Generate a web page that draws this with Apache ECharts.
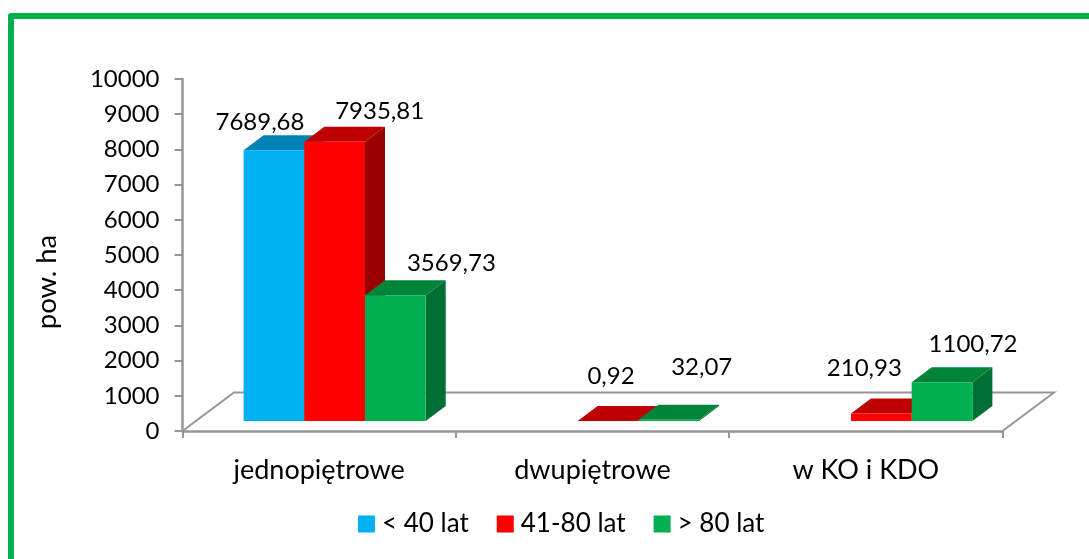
<!DOCTYPE html>
<html>
<head>
<meta charset="utf-8">
<style>html,body{margin:0;padding:0;background:#fff}#c{width:1089px;height:559px}</style>
<script src="https://cdn.jsdelivr.net/npm/echarts@6/dist/echarts.min.js"></script>
</head>
<body>
<div id="c"></div>
<script>
var categories = ['jednopiętrowe', 'dwupiętrowe', 'w KO i KDO'];
var seriesNames = ['< 40 lat', '41-80 lat', '> 80 lat'];
var young = [7689.68, null, null];
var middle = [7935.81, 0.92, 210.93];
var old = [3569.73, 32.07, 1100.72];
var yTicks = {min: 0, max: 10000, interval: 1000};

// styling only
var FONT = 'Lato';
var FS_NUM = 24, FS_CAT = 27, FS_LEGEND = 26, FS_NAME = 27.5;
var AXIS = '#969696';
var palettes = [
  {front: '#00B0F0', top: '#0083B4', side: '#006F98'},
  {front: '#FF0000', top: '#BF0000', side: '#990000'},
  {front: '#00B050', top: '#008439', side: '#006F33'}
];
var seriesShift = [-1, 0, 1];
var BAR_W = 60.7, GROUP_DX = 15.5, BASE_DY = -10, DEPTH_X = 20, DEPTH_Y = -15;
var FLOOR_X = 51.5, FLOOR_Y = -38.5;
// manual data-label displacement from each bar's top-centre [series][category]
var labelNudge = [
  [[-14, -28], null, null],
  [[45, -30], [3, -45], [-17, -45]],
  [[56, -32], [33, -53], [31, -38]]
];

function fmt(v) { return v.toFixed(2).replace('.', ','); }

function bar3d(sIdx) {
  return function (params, api) {
    var cat = api.value(0), val = api.value(1);
    var p0 = api.coord([cat, 0]), p1 = api.coord([cat, val]);
    var pal = palettes[sIdx];
    var xl = p0[0] + GROUP_DX + seriesShift[sIdx] * BAR_W - BAR_W / 2;
    var xr = xl + BAR_W;
    var yb = p0[1] + BASE_DY, yt = p1[1] + BASE_DY;
    var n = labelNudge[sIdx][cat];
    return {
      type: 'group',
      children: [
        {type: 'polygon', shape: {points: [[xr, yb], [xr + DEPTH_X, yb + DEPTH_Y], [xr + DEPTH_X, yt + DEPTH_Y], [xr, yt]]}, style: {fill: pal.side}},
        {type: 'polygon', shape: {points: [[xl, yt], [xr, yt], [xr + DEPTH_X, yt + DEPTH_Y], [xl + DEPTH_X, yt + DEPTH_Y]]}, style: {fill: pal.top}},
        {type: 'rect', shape: {x: xl, y: yt, width: BAR_W, height: yb - yt}, style: {fill: pal.front}},
        {type: 'text', style: {text: fmt(val), x: (xl + xr) / 2 + n[0], y: yt + n[1], textAlign: 'center', textVerticalAlign: 'middle', fontFamily: FONT, fontSize: FS_NUM, fill: '#000'}}
      ]
    };
  };
}

function floorItem(params) {
  var cs = params.coordSys;
  var l = cs.x, r = cs.x + cs.width, b = cs.y + cs.height;
  return {
    type: 'polyline',
    shape: {points: [[l, b], [l + FLOOR_X, b + FLOOR_Y], [r + FLOOR_X, b + FLOOR_Y], [r, b]]},
    style: {stroke: AXIS, lineWidth: 2, fill: null}
  };
}

function toPairs(arr) {
  var out = [];
  arr.forEach(function (v, i) { if (v !== null) out.push([i, v]); });
  return out;
}

var chart = echarts.init(document.getElementById('c'));
chart.setOption({
  animation: false,
  backgroundColor: '#fff',
  grid: {left: 182.5, top: 79, width: 820, height: 352},
  legend: {
    left: 358, top: 511, padding: 0, icon: 'rect', itemWidth: 17, itemHeight: 17, itemGap: 28,
    data: seriesNames, textStyle: {fontFamily: FONT, fontSize: FS_LEGEND, color: '#000', padding: [0, 0, 0, 2]},
    selectedMode: false
  },
  xAxis: {
    type: 'category', data: categories,
    axisLine: {lineStyle: {color: AXIS, width: 2.5}},
    axisTick: {show: true, alignWithLabel: false, length: 7, lineStyle: {color: AXIS, width: 2}},
    axisLabel: {margin: 26, interval: 0, fontFamily: FONT, fontSize: FS_CAT, color: '#000'},
    splitLine: {show: false}
  },
  yAxis: {
    type: 'value', min: yTicks.min, max: yTicks.max, interval: yTicks.interval,
    axisLine: {show: true, lineStyle: {color: AXIS, width: 2.5}},
    axisTick: {show: true, length: 8, lineStyle: {color: AXIS, width: 2}},
    axisLabel: {margin: 23, fontFamily: FONT, fontSize: FS_NUM, color: '#000', padding: [3, 0, 0, 0],
      formatter: function (v) { return String(v); }},
    splitLine: {show: false}
  },
  graphic: [
    {type: 'polyline', silent: true, shape: {points: [[11, 559], [11, 16], [1089, 16]]}, style: {stroke: '#00B050', lineWidth: 6, fill: null, lineJoin: 'round'}},
    {type: 'text', silent: true, x: 47, y: 282, rotation: Math.PI / 2, style: {text: 'pow. ha', textAlign: 'center', textVerticalAlign: 'middle', fontFamily: FONT, fontSize: FS_NAME, fill: '#000'}}
  ],
  series: [
    {type: 'custom', name: 'floor', silent: true, z: 1, data: [[0, 0]], renderItem: floorItem, clip: false},
    {type: 'custom', name: seriesNames[0], z: 2, itemStyle: {color: palettes[0].front}, data: toPairs(young), renderItem: bar3d(0), clip: false},
    {type: 'custom', name: seriesNames[1], z: 3, itemStyle: {color: palettes[1].front}, data: toPairs(middle), renderItem: bar3d(1), clip: false},
    {type: 'custom', name: seriesNames[2], z: 4, itemStyle: {color: palettes[2].front}, data: toPairs(old), renderItem: bar3d(2), clip: false}
  ]
});
</script>
</body>
</html>
